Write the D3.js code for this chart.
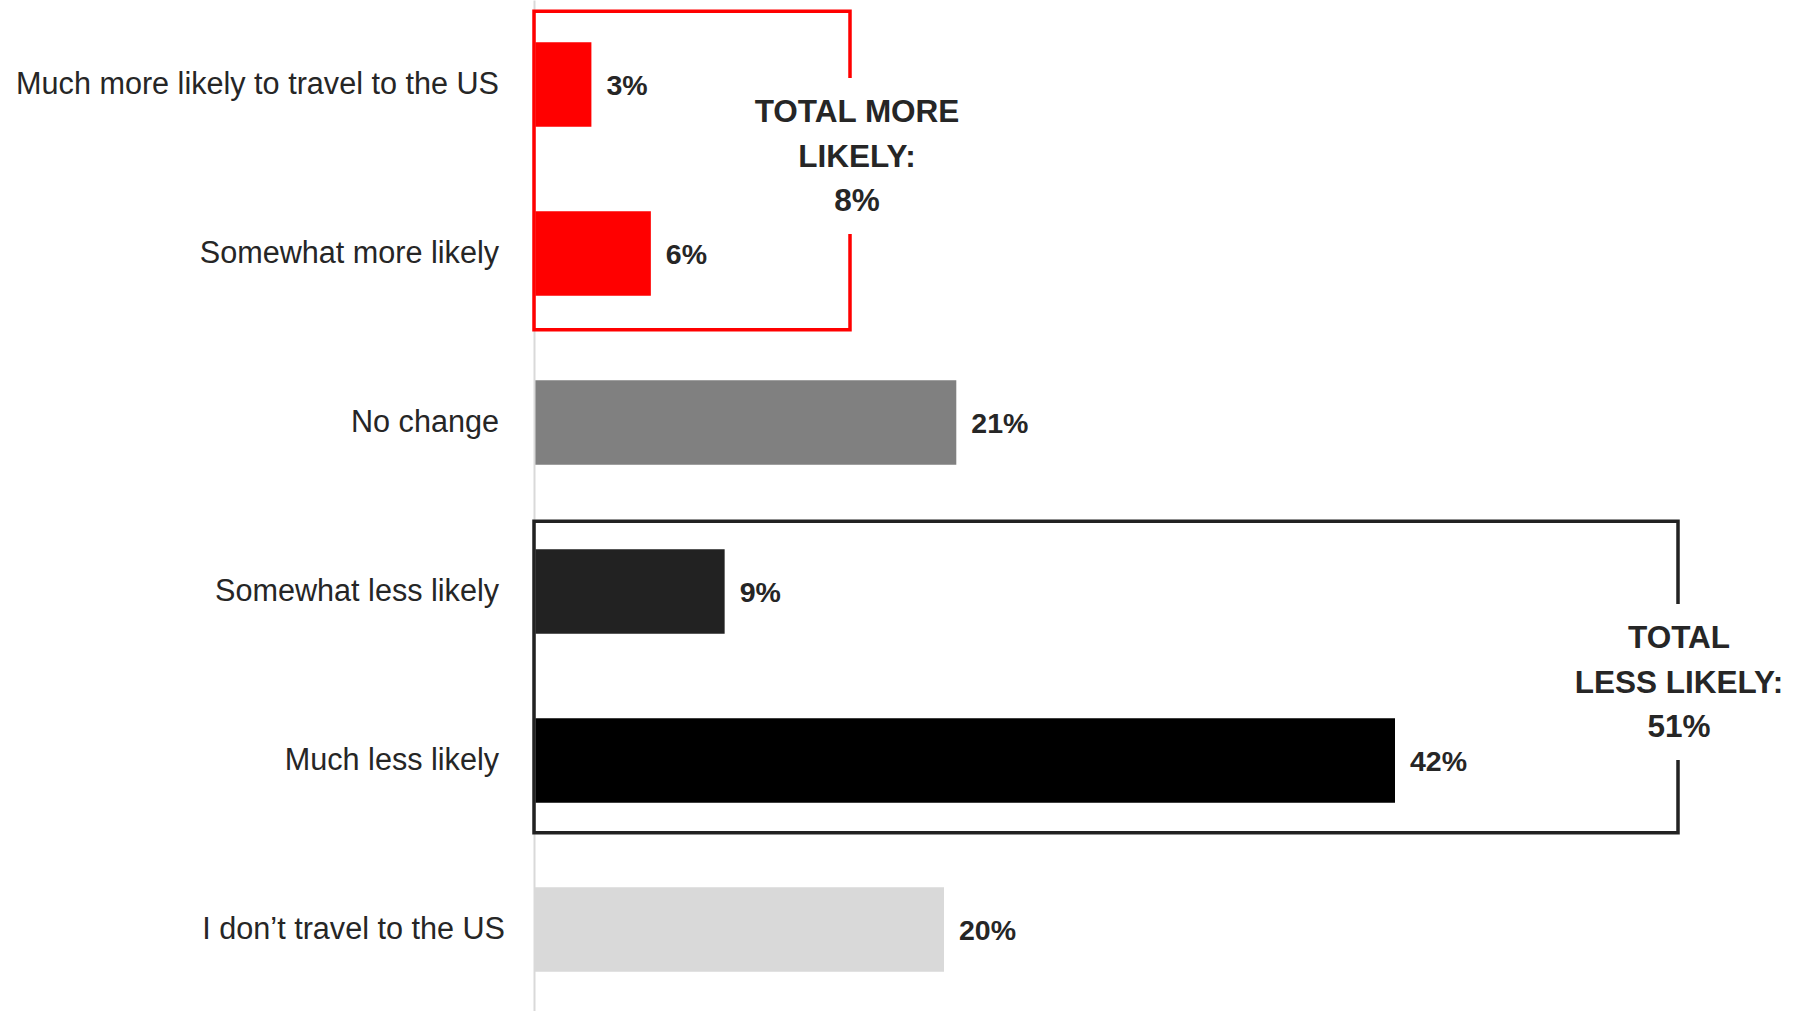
<!DOCTYPE html>
<html><head><meta charset="utf-8">
<script src="https://cdn.jsdelivr.net/npm/d3@7"></script>
<style>
html,body{margin:0;padding:0;background:#fff;}
svg{display:block;}
</style></head>
<body>
<svg id="chart" width="1808" height="1011"></svg>
<script>
const categories = ["Much more likely to travel to the US","Somewhat more likely","No change","Somewhat less likely","Much less likely","I don\u2019t travel to the US"];
const values = [2.8, 5.7, 20.6, 9.3, 42, 20];
const valueLabels = ["3%","6%","21%","9%","42%","20%"];
const barColors = ["#ff0000","#ff0000","#808080","#222222","#000000","#d9d9d9"];
const moreLines = ["TOTAL MORE","LIKELY:","8%"];
const lessLines = ["TOTAL","LESS LIKELY:","51%"];

const svg = d3.select("#chart");
const x0 = 534;
const x = d3.scaleLinear().domain([0, 50]).range([x0, x0 + 1025]);
const y = d3.scaleBand().domain(categories).range([0, 1014]).paddingInner(0.5).paddingOuter(0.25);
const bw = y.bandwidth();

// bars
svg.append("g").selectAll("rect").data(categories).join("rect")
  .attr("x", x(0)).attr("y", d => y(d))
  .attr("width", (d,i) => x(values[i]) - x(0))
  .attr("height", bw)
  .attr("fill", (d,i) => barColors[i]);

// axis
const axis = svg.append("g").attr("transform", `translate(${x0},0)`)
  .call(d3.axisLeft(y).tickSize(0).tickSizeOuter(0).tickPadding(35));
axis.select(".domain").attr("stroke", "#d9d9d9").attr("stroke-width", 2);
axis.selectAll(".tick text")
  .attr("font-family", "'Liberation Sans', Arial, sans-serif")
  .attr("font-size", 30.6).attr("fill", "#262626")
  .attr("dx", (d,i) => i === categories.length - 1 ? 6 : 0);

// value labels
svg.append("g").selectAll("text").data(categories).join("text")
  .attr("x", (d,i) => x(values[i]) + 15)
  .attr("y", d => y(d) + bw/2)
  .attr("dy", "0.36em")
  .attr("font-family", "'Liberation Sans', Arial, sans-serif")
  .attr("font-weight", "bold").attr("font-size", 28.5).attr("fill", "#262626")
  .text((d,i) => valueLabels[i]);

// red bracket
const rTop = y(categories[0]) - 31, rBot = y(categories[1]) + bw + 34, rRight = 850;
svg.append("path")
  .attr("d", `M${rRight},78 V${rTop} H${x0} V${rBot} H${rRight} V234`)
  .attr("fill", "none").attr("stroke", "#ff0000").attr("stroke-width", 3.5);

// black bracket
const bTop = y(categories[3]) - 28, bBot = y(categories[4]) + bw + 30, bRight = 1678;
svg.append("path")
  .attr("d", `M${bRight},604 V${bTop} H${x0} V${bBot} H${bRight} V760`)
  .attr("fill", "none").attr("stroke", "#222222").attr("stroke-width", 3.5);

function block(lines, cx, y0) {
  svg.append("g").selectAll("text").data(lines).join("text")
    .attr("x", cx).attr("y", (d,i) => y0 + i*44.7)
    .attr("text-anchor", "middle")
    .attr("font-family", "'Liberation Sans', Arial, sans-serif")
    .attr("font-weight", "bold").attr("font-size", 31.5).attr("fill", "#262626")
    .text(d => d);
}
block(moreLines, 857, 122);
block(lessLines, 1679, 648);
</script>
</body></html>
